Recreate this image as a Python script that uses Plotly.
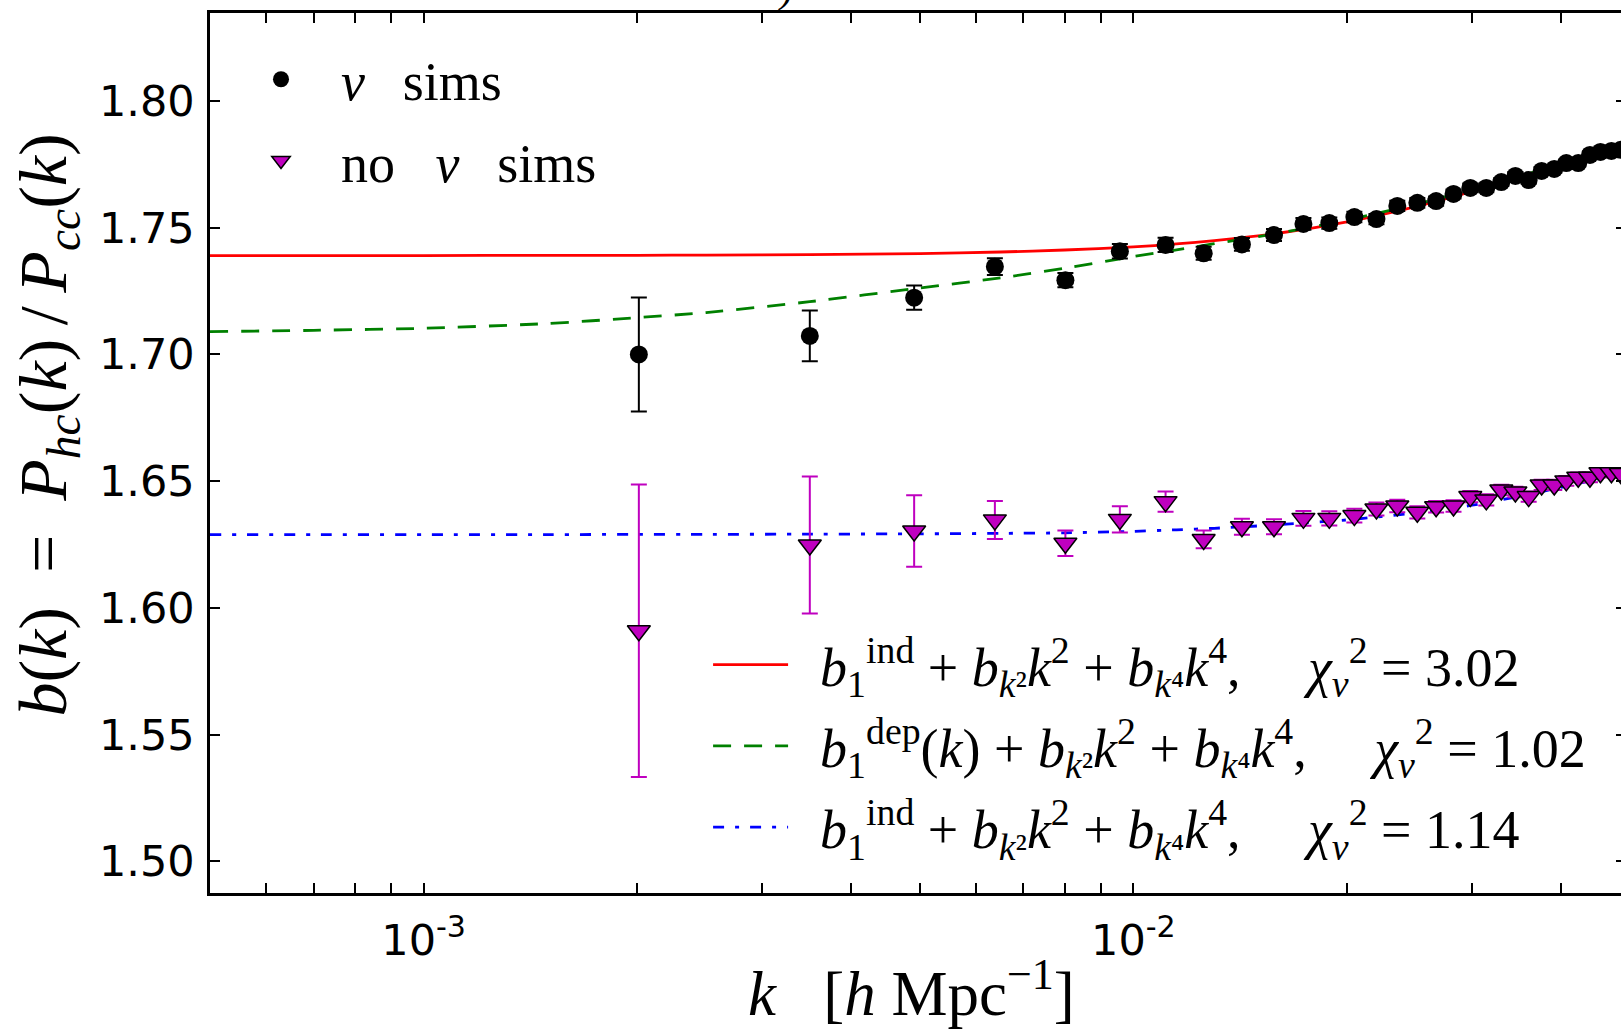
import plotly.graph_objects as go

# ---- measured scale-dependent bias (binned k, in h/Mpc) ----
k_bins = [0.00201, 0.00350, 0.00491, 0.00638, 0.00802, 0.00957, 0.01110, 0.01256,
          0.01422, 0.01578, 0.01736, 0.01888, 0.02048, 0.02200, 0.02354, 0.02512,
          0.02670, 0.02825, 0.02983, 0.03142, 0.03299, 0.03453, 0.03605, 0.03760,
          0.03917, 0.04073, 0.04234, 0.04398, 0.04550, 0.04715, 0.04860]

b_nu = [1.7000, 1.7073, 1.7224, 1.7346, 1.7293, 1.7407, 1.7432, 1.7399,
        1.7434, 1.7471, 1.7515, 1.7518, 1.7542, 1.7534, 1.7586, 1.7598,
        1.7605, 1.7633, 1.7657, 1.7657, 1.7680, 1.7704, 1.7688, 1.7724,
        1.7732, 1.7755, 1.7755, 1.7787, 1.7799, 1.7803, 1.7807]
b_nu_err = [0.0225, 0.0100, 0.0048, 0.0033, 0.0028, 0.0029, 0.0028, 0.0026,
            0.0025, 0.0024, 0.0023, 0.0022, 0.0021, 0.0020, 0.0020, 0.0019,
            0.0018, 0.0018, 0.0017, 0.0017, 0.0016, 0.0016, 0.0015, 0.0015,
            0.0015, 0.0014, 0.0014, 0.0014, 0.0013, 0.0013, 0.0013]

b_nonu = [1.5910, 1.6248, 1.6303, 1.6347, 1.6255, 1.6349, 1.6419, 1.6270,
          1.6320, 1.6320, 1.6353, 1.6353, 1.6364, 1.6390, 1.6402, 1.6377,
          1.6399, 1.6402, 1.6439, 1.6426, 1.6465, 1.6457, 1.6439, 1.6485,
          1.6485, 1.6501, 1.6515, 1.6515, 1.6533, 1.6533, 1.6530]
b_nonu_err = [0.0577, 0.0270, 0.0141, 0.0075, 0.0050, 0.0052, 0.0040, 0.0035,
              0.0032, 0.0030, 0.0029, 0.0028, 0.0027, 0.0026, 0.0025, 0.0024,
              0.0023, 0.0023, 0.0022, 0.0022, 0.0021, 0.0021, 0.0020, 0.0020,
              0.0020, 0.0019, 0.0019, 0.0019, 0.0018, 0.0018, 0.0018]

# ---- best-fit models ----
k_model = [5e-4, 7e-4, 1e-3, 1.5e-3, 2e-3, 2.5e-3, 3.5e-3, 5e-3, 6.5e-3, 8e-3,
           1e-2, 1.15e-2, 1.3e-2, 1.6e-2, 2e-2, 2.5e-2, 3e-2, 3.5e-2, 4e-2, 4.5e-2, 5e-2]
fit_ind_nu = [1.7390, 1.7390, 1.7390, 1.7391, 1.7391, 1.7392, 1.7394, 1.7398, 1.7404, 1.7412,
              1.7424, 1.7436, 1.7449, 1.7478, 1.7523, 1.7583, 1.7643, 1.7700, 1.7750, 1.7790, 1.7815]
fit_dep_nu = [1.7090, 1.7095, 1.7103, 1.7122, 1.7145, 1.7165, 1.7208, 1.7262, 1.7302, 1.7340,
              1.7386, 1.7412, 1.7437, 1.7478, 1.7530, 1.7592, 1.7650, 1.7703, 1.7750, 1.7788, 1.7812]
fit_ind_nonu = [1.6289, 1.6289, 1.6289, 1.6289, 1.6290, 1.6290, 1.6291, 1.6292, 1.6294, 1.6296,
                1.6302, 1.6308, 1.6314, 1.6328, 1.6347, 1.6375, 1.6405, 1.6440, 1.6475, 1.6508, 1.6538]

NB = "\u00a0"
THIN = "\u2009"
fit_terms = (" + <i>b</i><sub><i>k</i>²</sub><i>k</i><sup>2</sup>"
             " + <i>b</i><sub><i>k</i>⁴</sub><i>k</i><sup>4</sup>," + NB * 5 +
             "<i>χ</i><sub><i>ν</i></sub><sup>2</sup>" + NB + "=" + NB)
fit_labels = [
    NB * 2 + "<i>b</i><sub>1</sub><sup>ind</sup>" + fit_terms + "3.02",
    NB * 2 + "<i>b</i><sub>1</sub><sup>dep</sup>(<i>k</i>)" + fit_terms + "1.02",
    NB * 2 + "<i>b</i><sub>1</sub><sup>ind</sup>" + fit_terms + "1.14",
]
data_labels = ["<i>ν</i>" + NB * 2 + THIN + "sims",
               "no" + NB * 3 + "<i>ν</i>" + NB * 2 + THIN + "sims"]

y_ticks = [1.50, 1.55, 1.60, 1.65, 1.70, 1.75, 1.80]
x_ticks = [1e-3, 1e-2]
x_ticktext = ["10<sup>-3</sup>", "10<sup>-2</sup>"]
x_minor = [6e-4, 7e-4, 8e-4, 9e-4, 2e-3, 3e-3, 4e-3, 5e-3, 6e-3, 7e-3, 8e-3, 9e-3,
           2e-2, 3e-2, 4e-2]

SERIF = "Liberation Serif"
SANS = "DejaVu Sans"
MAGENTA = "#bf00bf"

fig = go.Figure()

fig.add_trace(go.Scatter(x=k_model, y=fit_ind_nu, mode="lines", name=fit_labels[0],
                         line=dict(color="#ff0000", width=2.8, shape="spline", smoothing=0.6),
                         legend="legend2", legendgroup="a"))
fig.add_trace(go.Scatter(x=k_model, y=fit_dep_nu, mode="lines", name=fit_labels[1],
                         line=dict(color="#008000", width=2.8, dash="18px,13px",
                                   shape="spline", smoothing=0.6),
                         legend="legend2", legendgroup="b"))
fig.add_trace(go.Scatter(x=k_model, y=fit_ind_nonu, mode="lines", name=fit_labels[2],
                         line=dict(color="#0000ff", width=2.8, dash="11px,11px,4px,11px",
                                   shape="spline", smoothing=0.6),
                         legend="legend2", legendgroup="c"))

fig.add_trace(go.Scatter(x=k_bins, y=b_nu, mode="markers", name=data_labels[0],
                         marker=dict(symbol="circle", size=18, color="black"),
                         error_y=dict(type="data", array=b_nu_err, color="black",
                                      thickness=2, width=8),
                         legend="legend", legendgroup="d"))
fig.add_trace(go.Scatter(x=k_bins, y=b_nonu, mode="markers", name=data_labels[1],
                         marker=dict(symbol="triangle-down", size=20, color=MAGENTA,
                                     line=dict(color="black", width=1.5)),
                         error_y=dict(type="data", array=b_nonu_err, color=MAGENTA,
                                      thickness=2, width=8),
                         legend="legend", legendgroup="e"))

# invisible companion axis carrying the right-hand tick marks
fig.add_trace(go.Scatter(x=[k_bins[0]], y=[b_nu[0]], yaxis="y2", mode="markers",
                         marker=dict(opacity=0), showlegend=False, hoverinfo="skip"))

y_range = [1.4875, 1.8347]

fig.update_layout(
    width=1621, height=1033, autosize=False,
    margin=dict(l=210, r=0, t=13, b=140, pad=0),
    paper_bgcolor="white", plot_bgcolor="white",
    showlegend=True,
    xaxis=dict(type="log", range=[-3.30103, -1.3130],
               showline=True, linecolor="black", linewidth=2.5, mirror="allticks",
               ticks="inside", ticklen=10, tickwidth=1.5, tickcolor="black",
               tickvals=x_ticks, ticktext=x_ticktext,
               tickfont=dict(family=SANS, size=43, color="black"),
               ticklabelstandoff=8,
               minor=dict(tickvals=x_minor, ticks="inside", ticklen=5, tickwidth=1.5,
                          tickcolor="black", showgrid=False),
               showgrid=False, zeroline=False),
    yaxis=dict(range=y_range, showline=True, linecolor="black", linewidth=2.5, mirror=False,
               ticks="inside", ticklen=10, tickwidth=1.5, tickcolor="black",
               tickvals=y_ticks, tickformat=".2f",
               tickfont=dict(family=SANS, size=43, color="black"),
               ticklabelstandoff=4,
               showgrid=False, zeroline=False),
    yaxis2=dict(range=y_range, overlaying="y", side="right", showline=False,
                ticks="inside", ticklen=5, tickwidth=1.5, tickcolor="black",
                tickvals=y_ticks, showticklabels=False, showgrid=False, zeroline=False),
    legend=dict(x=0.0078, y=0.972, xanchor="left", yanchor="top",
                bgcolor="rgba(0,0,0,0)", borderwidth=0, itemwidth=110,
                tracegroupgap=8, traceorder="grouped",
                font=dict(family=SERIF, size=54, color="black")),
    legend2=dict(x=0.353, y=0.3067, xanchor="left", yanchor="top",
                 bgcolor="rgba(0,0,0,0)", borderwidth=0, itemwidth=75,
                 tracegroupgap=8, traceorder="grouped",
                 font=dict(family=SERIF, size=54, color="black")),
    annotations=[
        dict(text="<i>b</i>(<i>k</i>)" + NB * 2 + "=" + NB * 2 +
                  "<i>P</i><sub><i>hc</i></sub>(<i>k</i>)" + THIN + "/" + THIN +
                  "<i>P</i><sub><i>cc</i></sub>(<i>k</i>)",
             xref="paper", yref="paper", x=-0.115, y=0.532, xanchor="center", yanchor="middle",
             textangle=-90, showarrow=False,
             font=dict(family=SERIF, size=68, color="black")),
        dict(text="<i>k</i>" + NB * 3 + "[<i>h</i>" + NB + "Mpc<sup>−1</sup>]",
             xref="paper", yref="paper", x=0.497, y=-0.157, xanchor="center", yanchor="bottom",
             showarrow=False,
             font=dict(family=SERIF, size=63, color="black")),
        dict(text="<i>)</i>", xref="paper", yref="paper", x=0.408, y=1.0, xanchor="center",
             yanchor="bottom", yshift=0, showarrow=False,
             font=dict(family=SERIF, size=40, color="black")),
    ],
)

fig.write_html("out.html")
